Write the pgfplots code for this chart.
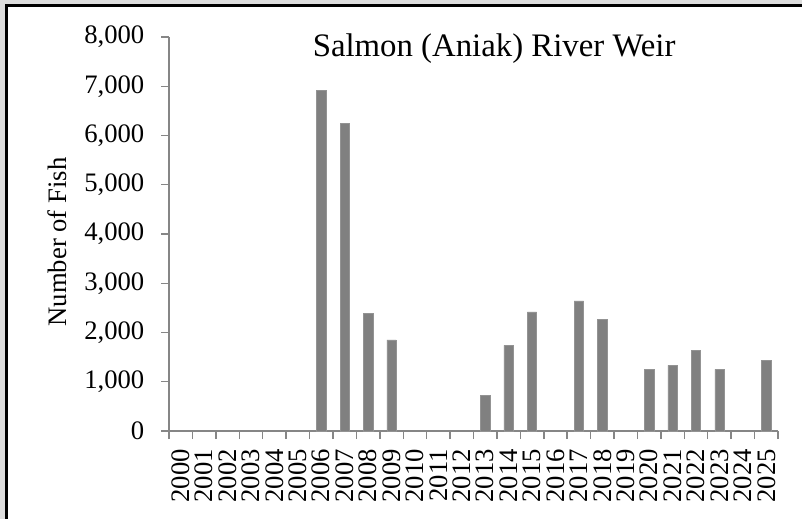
\documentclass[border=0pt]{standalone}
\usepackage{pgfplots}
\pgfplotsset{compat=1.18}
\usepackage{fontspec}
\setmainfont{Liberation Serif}
\definecolor{bggray}{RGB}{221,221,221}
\definecolor{barfill}{RGB}{128,128,128}
\definecolor{axgray}{RGB}{134,134,134}
\begin{document}
\begin{tikzpicture}
\useasboundingbox (0,0) rectangle (601.5pt,-389.25pt);
\fill[bggray] (0,0) rectangle (601.5pt,-389.25pt);
\fill[white] (3.75pt,-3pt) rectangle (601.5pt,-389.25pt);
\fill[black] (3.75pt,-3pt) rectangle (601.5pt,-5.25pt);
\fill[black] (3.75pt,-3pt) rectangle (6pt,-389.25pt);
\begin{axis}[
  at={(126.75pt,-323.25pt)}, anchor=south west,
  scale only axis, width=456.75pt, height=295.5pt,
  xmin=-0.5, xmax=25.5, ymin=0, ymax=8000,
  axis x line*=bottom, axis y line*=left,
  axis line style={draw=axgray, line width=1.1pt},
  xtick={0,...,25},
  xticklabels={2000,2001,2002,2003,2004,2005,2006,2007,2008,2009,2010,2011,2012,2013,2014,2015,2016,2017,2018,2019,2020,2021,2022,2023,2024,2025},
  minor xtick={-0.5,0.5,...,25.5},
  ytick={0,1000,...,8000},
  minor ytick={0,1000,...,8000},
  major tick length=0pt,
  minor tick length=6pt,
  tick align=outside,
  every minor tick/.style={draw=axgray, line width=1.1pt},
  tick label style={font=\fontsize{20}{24}\selectfont},
  xticklabel style={rotate=90, anchor=east, xshift=-10pt},
  yticklabel style={xshift=-15pt},
  scaled y ticks=false,
  yticklabel style={/pgf/number format/fixed,/pgf/number format/1000 sep={,}},
  /pgf/number format/assume math mode=true,
  ylabel={Number of Fish},
  ylabel shift=6pt,
  ylabel style={font=\fontsize{20}{24}\selectfont, xshift=-6pt},
  ybar, bar width=7pt,
  clip=false,
]
  \addplot[fill=barfill, draw=barfill!85!white, line width=0.4pt] coordinates {
    (6,6920) (7,6240) (8,2390) (9,1850)
    (13,730) (14,1740) (15,2420)
    (17,2640) (18,2260)
    (20,1250) (21,1335) (22,1640) (23,1250)
    (25,1440)
  };
  \node[font=\fontsize{24.6}{28}\selectfont, anchor=base] at (axis cs:13.38,7600) {Salmon (Aniak) River Weir};
\end{axis}
\end{tikzpicture}
\end{document}
